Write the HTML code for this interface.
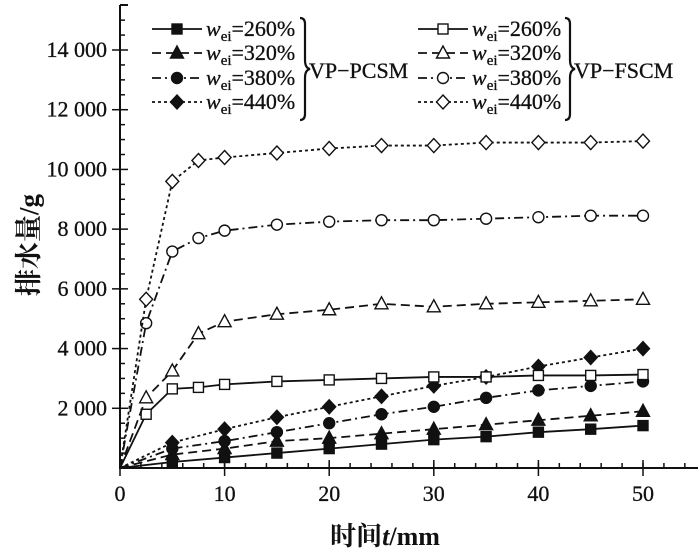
<!DOCTYPE html>
<html><head><meta charset="utf-8"><style>
body{margin:0;background:#fff}
svg text{font-family:"Liberation Serif","Noto Serif CJK SC",serif;fill:#111}
</style></head><body>
<svg id="chart" width="700" height="554" viewBox="0 0 700 554" xmlns="http://www.w3.org/2000/svg"></svg>
<script>
const tF=[0,2.5,5,7.5,10,15,20,25,30,35,40,45,50];
const tP=[0,5,10,15,20,25,30,35,40,45,50];
const f260=[0,1800,2650,2700,2800,2900,2950,3000,3050,3050,3100,3100,3130];
const f320=[0,2350,3250,4500,4900,5150,5300,5500,5400,5500,5550,5600,5650];
const f380=[0,4850,7250,7700,7950,8150,8250,8300,8300,8350,8400,8450,8450];
const f440=[0,5650,9600,10300,10400,10550,10700,10800,10800,10900,10900,10900,10950];
const p260=[0,200,350,500,650,800,950,1050,1200,1300,1420];
const p320=[0,450,650,900,1000,1150,1300,1450,1600,1750,1900];
const p380=[0,650,900,1200,1500,1800,2050,2350,2600,2750,2900];
const p440=[0,850,1300,1700,2050,2400,2750,3050,3400,3700,4000];
const xTicks=[0,10,20,30,40,50];
const yTicks=[2000,4000,6000,8000,10000,12000,14000];
const yLabels=["2 000","4 000","6 000","8 000","10 000","12 000","14 000"];

const svg=document.getElementById('chart');
const NS='http://www.w3.org/2000/svg';
const X=t=>120+t*(643-120)/50;
const Y=v=>468-v*(468-50)/14000;
function el(tag,a,parent){const e=document.createElementNS(NS,tag);for(const k in a)e.setAttribute(k,a[k]);(parent||svg).appendChild(e);return e;}

const ax=el('g',{});


el('line',{x1:120,y1:5,x2:120,y2:469,stroke:'#111','stroke-width':2},ax);
el('line',{x1:119,y1:468,x2:698,y2:468,stroke:'#111','stroke-width':2},ax);
el('line',{x1:120,y1:5,x2:128,y2:5,stroke:'#111','stroke-width':2},ax);
for(let v=500;v<=15200;v+=500){const maj=v%2000===0;el('line',{x1:maj?112:120,y1:Y(v),x2:maj?128:125,y2:Y(v),stroke:'#111','stroke-width':1.5},ax);}
for(let t=2;t<=55;t+=2){el('line',{x1:X(t),y1:468,x2:X(t),y2:463,stroke:'#111','stroke-width':1.5},ax);}
xTicks.forEach(t=>{el('line',{x1:X(t),y1:460,x2:X(t),y2:476,stroke:'#111','stroke-width':1.5},ax);
 const tx=el('text',{x:X(t),y:501,'text-anchor':'middle','font-size':22,stroke:'#111','stroke-width':0.3},ax);tx.textContent=t;
 });
yTicks.forEach((v,i)=>{const tx=el('text',{x:107,y:Y(v)+7,'text-anchor':'end','font-size':22,stroke:'#111','stroke-width':0.3},ax);tx.textContent=yLabels[i];
 });
const xl=el('text',{x:385,y:545,'text-anchor':'middle','font-size':26,'font-weight':'bold'});
xl.innerHTML='时间<tspan font-style="italic">t</tspan>/mm';

const yl=el('text',{x:0,y:0,'text-anchor':'middle','font-size':27,'font-weight':'bold',transform:'translate(38,245) rotate(-90)'});
yl.textContent='排水量/g';


function marker(g,type,filled,x,y){const f=filled?'#111':'#fff';
 if(type==='sq')return el('rect',{x:x-5,y:y-5,width:10,height:10,fill:f,stroke:'#111','stroke-width':1.4},g);
 if(type==='tri')return el('polygon',{points:`${x},${y-7} ${x-6.5},${y+5} ${x+6.5},${y+5}`,fill:f,stroke:'#111','stroke-width':1.4},g);
 if(type==='ci')return el('circle',{cx:x,cy:y,r:5.5,fill:f,stroke:'#111','stroke-width':1.4},g);
 return el('polygon',{points:`${x},${y-7} ${x+6.5},${y} ${x},${y+7} ${x-6.5},${y}`,fill:f,stroke:'#111','stroke-width':1.4},g);}
const dashes={sq:'',tri:'9,5',ci:'9,4,2,4',di:'3,3'};
function series(name,ts,vs,type,filled){
 const g=el('g',{});
 
 
 el('path',{d:ts.map((t,i)=>(i?'L':'M')+X(t)+','+Y(vs[i])).join(''),fill:'none',stroke:'#111','stroke-width':1.8,'stroke-dasharray':dashes[type]},g);
 ts.forEach((t,i)=>{if(i>0)marker(g,type,filled,X(t),Y(vs[i]));});
}
series('series-pcsm-260',tP,p260,'sq',true);
series('series-pcsm-320',tP,p320,'tri',true);
series('series-pcsm-380',tP,p380,'ci',true);
series('series-pcsm-440',tP,p440,'di',true);
series('series-fscm-260',tF,f260,'sq',false);
series('series-fscm-320',tF,f320,'tri',false);
series('series-fscm-380',tF,f380,'ci',false);
series('series-fscm-440',tF,f440,'di',false);

const types=['sq','tri','ci','di'],vals=['260','320','380','440'],rows=[29,53,78,102];
[[152,true,'VP−PCSM',300],[418,false,'VP−FSCM',565]].forEach(([x0,filled,lab,bx])=>{
 const lg=el('g',{});
 
 
 types.forEach((ty,i)=>{const y=rows[i];
  el('line',{x1:x0,y1:y,x2:x0+50,y2:y,stroke:'#111','stroke-width':1.8,'stroke-dasharray':dashes[ty]},lg);
  marker(lg,ty,filled,x0+25,y);
  const tx=el('text',{x:x0+54,y:y+7,'font-size':22,stroke:'#111','stroke-width':0.3},lg);
  tx.innerHTML='<tspan font-style="italic">w</tspan><tspan font-size="15" dy="5">ei</tspan><tspan dy="-5">='+vals[i]+'%</tspan>';
  });
 el('path',{d:`M${bx},18 q5,0 5,6 v36 q0,8 5,9 q-5,1 -5,9 v36 q0,6 -5,6`,fill:'none',stroke:'#111','stroke-width':2.2},lg);
 const t=el('text',{x:bx+9,y:78,'font-size':22,stroke:'#111','stroke-width':0.3},lg);t.textContent=lab;
});
</script>
</body></html>
